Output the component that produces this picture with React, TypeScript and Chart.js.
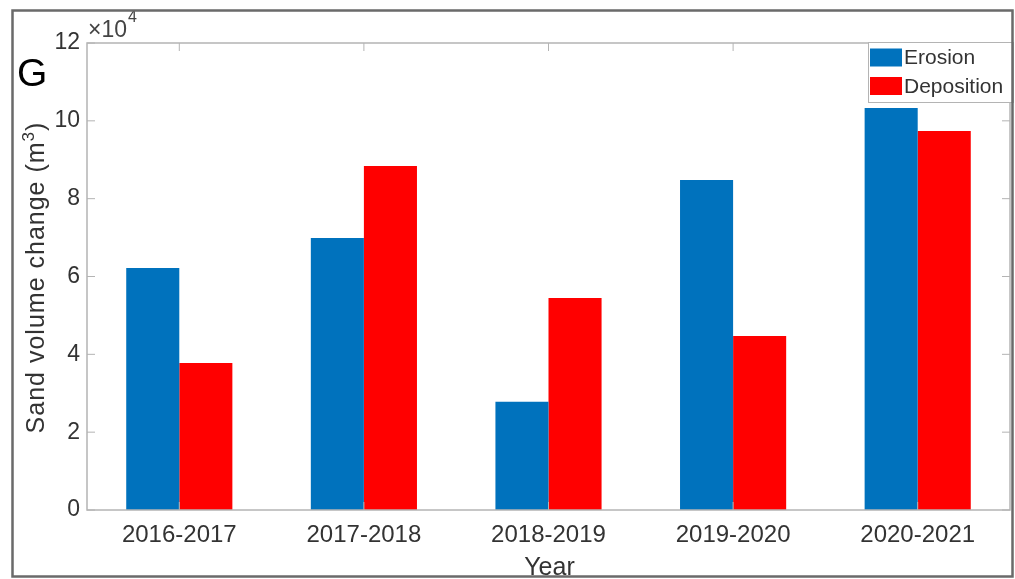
import React, { useEffect, useRef } from "react";
import { Chart, registerables } from "chart.js";

Chart.register(...registerables);

const categories = ["2016-2017", "2017-2018", "2018-2019", "2019-2020", "2020-2021"];
const erosion = [62200, 69900, 27800, 84800, 103300];
const deposition = [37800, 88400, 54500, 44700, 97400];
const seriesNames = ["Erosion", "Deposition"];
const seriesColors = ["#0072BD", "#FF0000"];
const yTicksMax = 120000;
const yStep = 20000;
const xTitle = "Year";
const yTitleMain = "Sand volume change (m";
const yTitleSup = "3";
const yTitleEnd = ")";

const FONT = "'Liberation Sans', Arial, Helvetica, sans-serif";

const decorPlugin = {
  id: "decor",
  afterDraw(chart: any) {
    const ctx = chart.ctx as CanvasRenderingContext2D;
    const a = chart.chartArea;
    const xs = chart.scales.x;
    const ys = chart.scales.y;
    ctx.save();
    // axes box
    ctx.strokeStyle = "#b4b4b4";
    ctx.lineWidth = 1.5;
    ctx.strokeRect(a.left, a.top, a.right - a.left, a.bottom - a.top);
    // inward ticks
    ctx.lineWidth = 1;
    ctx.beginPath();
    for (let i = 0; i < categories.length; i++) {
      const x = xs.getPixelForValue(i);
      ctx.moveTo(x, a.bottom);
      ctx.lineTo(x, a.bottom - 8);
      ctx.moveTo(x, a.top);
      ctx.lineTo(x, a.top + 8);
    }
    for (let v = 0; v <= yTicksMax; v += yStep) {
      const y = ys.getPixelForValue(v);
      ctx.moveTo(a.left, y);
      ctx.lineTo(a.left + 8, y);
      ctx.moveTo(a.right, y);
      ctx.lineTo(a.right - 8, y);
    }
    ctx.stroke();

    // y-axis title (rotated, with superscript)
    ctx.save();
    const cy = (a.top + a.bottom) / 2 + 1;
    ctx.translate(44, cy);
    ctx.rotate(-Math.PI / 2);
    ctx.fillStyle = "#333";
    ctx.textBaseline = "alphabetic";
    ctx.textAlign = "left";
    (ctx as any).letterSpacing = "1px";
    ctx.font = `25px ${FONT}`;
    const w1 = ctx.measureText(yTitleMain).width;
    const w3 = ctx.measureText(yTitleEnd).width;
    ctx.font = `17px ${FONT}`;
    const w2 = ctx.measureText(yTitleSup).width;
    const total = w1 + w2 + w3;
    let x0 = -total / 2;
    ctx.font = `25px ${FONT}`;
    ctx.fillText(yTitleMain, x0, 0);
    x0 += w1;
    ctx.font = `17px ${FONT}`;
    ctx.fillText(yTitleSup, x0, -10);
    x0 += w2;
    ctx.font = `25px ${FONT}`;
    ctx.fillText(yTitleEnd, x0, 0);
    ctx.restore();

    // x-axis title (bottom edge touches the frame)
    ctx.fillStyle = "#333";
    ctx.font = `25px ${FONT}`;
    ctx.textAlign = "center";
    ctx.textBaseline = "alphabetic";
    ctx.fillText(xTitle, (a.left + a.right) / 2 + 1, 575);

    // x10^4 exponent
    ctx.fillStyle = "#444";
    ctx.textBaseline = "middle";
    ctx.textAlign = "left";
    ctx.font = `23px ${FONT}`;
    ctx.fillText("\u00d710", 88, 31);
    const w = ctx.measureText("\u00d710").width;
    ctx.font = `16px ${FONT}`;
    ctx.fillText("4", 88 + w + 1, 18);

    // panel letter
    ctx.fillStyle = "#000";
    ctx.font = `39px ${FONT}`;
    ctx.fillText("G", 17, 75);

    // legend
    const lx = 868, ly = 42, lw = 145, lh = 60;
    ctx.fillStyle = "#fff";
    ctx.fillRect(lx, ly, lw, lh);
    ctx.strokeStyle = "#b4b4b4";
    ctx.lineWidth = 1;
    ctx.strokeRect(lx + 0.5, ly + 0.5, lw, lh);
    const rows = [57.5, 86];
    ctx.font = `21px ${FONT}`;
    for (let i = 0; i < seriesNames.length; i++) {
      ctx.fillStyle = seriesColors[i];
      ctx.fillRect(870, rows[i] - 9, 32, 18);
      ctx.fillStyle = "#333";
      ctx.fillText(seriesNames[i], 904, rows[i] + 1);
    }

    // outer frame
    ctx.strokeStyle = "#6a6a6a";
    ctx.lineWidth = 2.5;
    ctx.strokeRect(12.5, 10.5, 1000, 566);
    ctx.restore();
  },
};

export default function App() {
  const ref = useRef<HTMLCanvasElement>(null);
  useEffect(() => {
    if (!ref.current) return;
    const chart = new Chart(ref.current, {
      type: "bar",
      data: {
        labels: categories,
        datasets: [
          {
            label: seriesNames[0],
            data: erosion,
            backgroundColor: seriesColors[0],
            categoryPercentage: 0.575,
            barPercentage: 1,
          },
          {
            label: seriesNames[1],
            data: deposition,
            backgroundColor: seriesColors[1],
            categoryPercentage: 0.575,
            barPercentage: 1,
          },
        ],
      },
      options: {
        responsive: false,
        animation: false,
        devicePixelRatio: 1,
        layout: { padding: { left: 0, top: 43, right: 5, bottom: 0 } },
        plugins: { legend: { display: false }, tooltip: { enabled: false } },
        scales: {
          x: {
            grid: { display: false, drawTicks: false },
            border: { display: false },
            ticks: { color: "#333", font: { family: FONT, size: 24 }, padding: 11, maxRotation: 0 },
            title: { display: false },
            afterFit: (s: any) => {
              s.height = 69;
            },
          },
          y: {
            min: 0,
            max: yTicksMax,
            grid: { display: false, drawTicks: false },
            border: { display: false },
            ticks: {
              stepSize: yStep,
              color: "#333",
              font: { family: FONT, size: 23 },
              padding: 7,
              callback: (v: any) => String(Number(v) / 10000),
            },
            title: { display: false },
            afterFit: (s: any) => {
              s.width = 87;
            },
          },
        },
      },
      plugins: [decorPlugin],
    });
    return () => chart.destroy();
  }, []);
  return (
    <div style={{ position: "absolute", left: 0, top: 0, width: 1015, height: 579, background: "#fff" }}>
      <canvas ref={ref} width={1015} height={579} style={{ display: "block" }} />
    </div>
  );
}
